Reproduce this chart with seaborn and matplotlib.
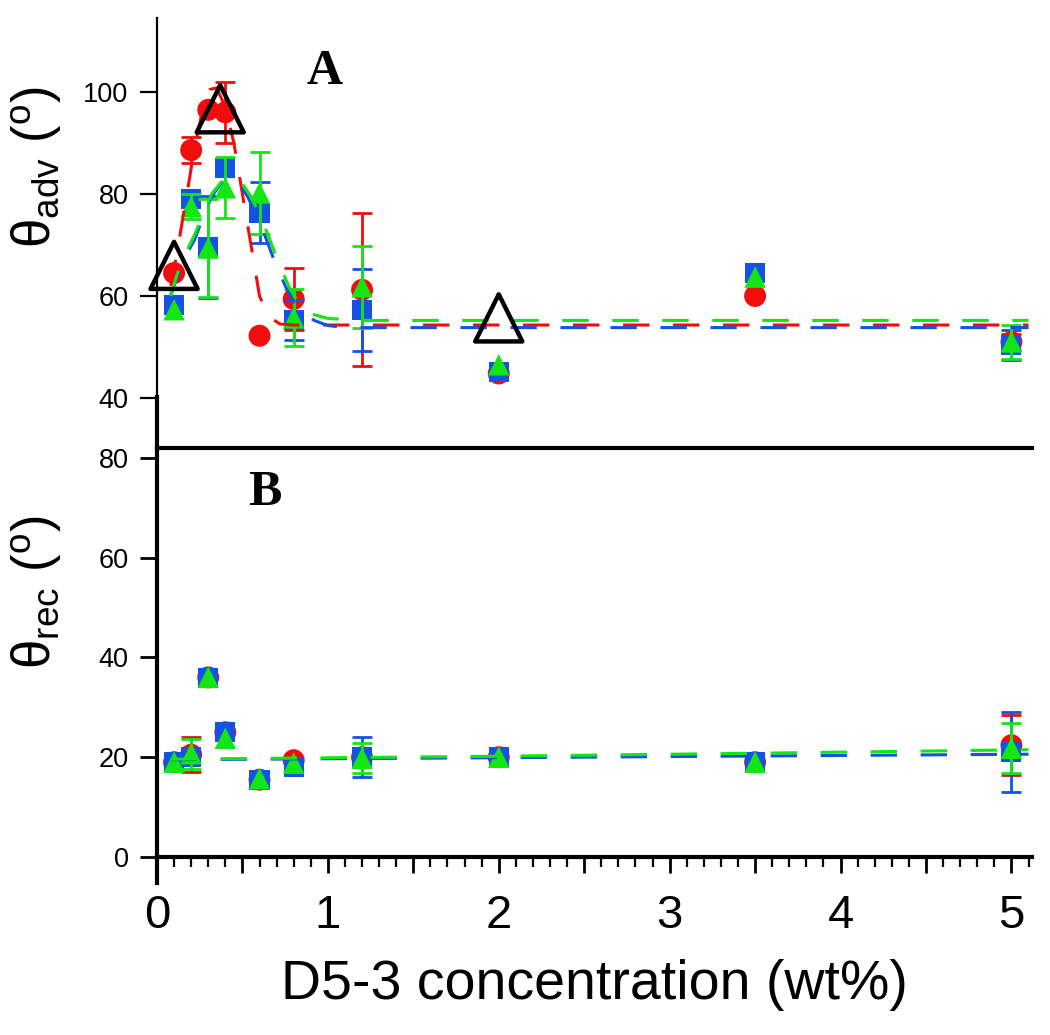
import numpy as np
import matplotlib
matplotlib.use("Agg")
import matplotlib.pyplot as plt
import seaborn as sns
from matplotlib.ticker import MultipleLocator, FixedLocator, FuncFormatter

# ---------------- data ----------------
conc = [0.1, 0.2, 0.3, 0.4, 0.6, 0.8, 1.2, 2.0, 3.5, 5.0]

adv_red = [64.5, 88.6, 96.5, 96.0, 52.2, 59.4, 61.2, 44.8, 60.0, 51.0]
adv_red_err = [0, 2.5, 0, 6, 0, 6, 15, 0, 0, 1.5]
adv_blue = [58.2, 79.0, 69.6, 85.1, 76.3, 55.3, 57.3, 45.1, 64.5, 50.4]
adv_blue_err = [0, 0, 10, 0, 6, 4, 8, 0, 0, 3]
adv_green = [57.3, 77.5, 69.4, 81.2, 80.2, 55.7, 61.8, 46.5, 63.7, 51.0]
adv_green_err = [0, 2.4, 9.7, 6, 8, 5.6, 8, 0, 0, 3.3]

ref_x = [0.1, 0.37, 2.0]
ref_adv = [66.0, 96.7, 55.7]

rec_red = [19.0, 20.5, 36.0, 25.0, 15.5, 19.4, 20.0, 20.0, 19.0, 22.4]
rec_red_err = [0, 3.5, 0, 0, 0, 0, 0, 0, 0, 6]
rec_blue = [19.0, 20.0, 35.8, 25.0, 15.4, 18.0, 20.0, 20.0, 19.0, 21.0]
rec_blue_err = [0, 0, 0, 0, 0, 0, 4, 0, 0, 8]
rec_green = [19.0, 20.7, 36.0, 23.8, 15.7, 18.8, 19.8, 20.0, 19.0, 21.8]
rec_green_err = [0, 3, 0, 0, 0, 0, 3, 0, 0, 5]

fit_adv_red_x = [0.08, 0.12, 0.17, 0.22, 0.27, 0.31, 0.35, 0.40, 0.45, 0.50, 0.55, 0.60, 0.65, 0.72, 0.80, 5.10]
fit_adv_red_y = [62, 69, 79, 89, 97, 100.5, 100.8, 97, 90, 80, 70, 60, 56, 54.5, 54.3, 54.3]
fit_adv_blue_x = [0.08, 0.12, 0.17, 0.22, 0.27, 0.32, 0.38, 0.43, 0.48, 0.53, 0.58, 0.63, 0.68, 0.75, 0.80, 0.85, 0.92, 1.00, 1.10, 5.10]
fit_adv_blue_y = [60, 64, 68, 71, 75.5, 79.5, 82.3, 83, 82, 79.5, 76, 72, 67.5, 62, 59, 57, 55.2, 54.2, 53.8, 53.8]
fit_adv_green_x = [0.08, 0.12, 0.17, 0.22, 0.27, 0.32, 0.38, 0.44, 0.50, 0.55, 0.60, 0.65, 0.70, 0.77, 0.83, 0.90, 1.00, 1.20, 5.10]
fit_adv_green_y = [60, 64.5, 68.5, 72, 76, 80, 82.5, 83.2, 82, 79.5, 76, 72, 67.5, 62, 58.5, 56.5, 55.6, 55.2, 55.2]

fit_rec_blue_x = [0.08, 2.0, 5.1]
fit_rec_blue_y = [19.5, 19.9, 20.6]
fit_rec_green_x = [0.08, 2.0, 3.5, 5.1]
fit_rec_green_y = [19.6, 20.2, 20.8, 21.5]

xticks_major = [0, 0.5, 1, 1.5, 2, 2.5, 3, 3.5, 4, 4.5, 5]
adv_ticks = [40, 60, 80, 100]
rec_ticks = [0, 20, 40, 60, 80]

RED = "#F20D0D"
BLUE = "#1452E6"
GREEN = "#14E614"

# ---------------- style ----------------
sns.set_style("ticks")
plt.rcParams['font.family'] = ['Liberation Sans', 'DejaVu Sans']
plt.rcParams['mathtext.fontset'] = 'custom'
plt.rcParams['mathtext.rm'] = 'Liberation Sans'
plt.rcParams['mathtext.it'] = 'Liberation Sans:italic'
plt.rcParams['mathtext.bf'] = 'Liberation Sans:bold'
plt.rcParams['lines.scale_dashes'] = False
plt.rcParams['text.color'] = 'black'
plt.rcParams['axes.labelcolor'] = 'black'
plt.rcParams['xtick.color'] = 'black'
plt.rcParams['ytick.color'] = 'black'

fig = plt.figure(figsize=(10.5, 10.35), dpi=100)
ax1 = fig.add_axes([0.1495, 0.6155, 0.8333, 0.3671])
ax2 = fig.add_axes([0.1495, 0.1720, 0.8333, 0.3952])

DASH = (0, (19, 17))
MS = {"o": 250, "s": 210, "^": 240}


def draw_series(ax, y, err, color, marker, z):
    y = np.asarray(y, float)
    err = np.asarray(err, float)
    x = np.asarray(conc, float)
    m = err > 0
    if m.any():
        ax.errorbar(x[m], y[m], yerr=err[m], fmt='none', ecolor=color,
                    elinewidth=2.0, capsize=7, capthick=2.0, zorder=z)
    sns.scatterplot(x=x, y=y, ax=ax, marker=marker, s=MS[marker], color=color,
                    edgecolor='none', linewidth=0, zorder=z + 0.5, legend=False)


# top panel
draw_series(ax1, adv_red, adv_red_err, RED, "o", 3)
draw_series(ax1, adv_blue, adv_blue_err, BLUE, "s", 4)
draw_series(ax1, adv_green, adv_green_err, GREEN, "^", 5)
for fx, fy, c in [(fit_adv_red_x, fit_adv_red_y, RED),
                  (fit_adv_blue_x, fit_adv_blue_y, BLUE),
                  (fit_adv_green_x, fit_adv_green_y, GREEN)]:
    sns.lineplot(x=fx, y=fy, ax=ax1, color=c, linewidth=2.2, linestyle=DASH,
                 sort=False, estimator=None, zorder=7, legend=False)
ax1.scatter(ref_x, ref_adv, marker='^', s=1150, facecolors='none',
            edgecolors='black', linewidths=3.2, zorder=9, clip_on=False)

# bottom panel
draw_series(ax2, rec_red, rec_red_err, RED, "o", 3)
draw_series(ax2, rec_blue, rec_blue_err, BLUE, "s", 4)
draw_series(ax2, rec_green, rec_green_err, GREEN, "^", 5)
for fx, fy, c in [(fit_rec_blue_x, fit_rec_blue_y, BLUE),
                  (fit_rec_green_x, fit_rec_green_y, GREEN)]:
    sns.lineplot(x=fx, y=fy, ax=ax2, color=c, linewidth=2.2, linestyle=DASH,
                 sort=False, estimator=None, zorder=7, legend=False)

# ---------------- axes ----------------
for ax in (ax1, ax2):
    ax.set_xlim(0, 5.12)
    ax.set_facecolor('white')

ax1.set_ylim(40, 114.5)
ax2.set_ylim(0, 82)

ax1.spines['top'].set_visible(False)
ax1.spines['right'].set_visible(False)
ax1.spines['bottom'].set_visible(False)
ax1.spines['left'].set_linewidth(1.6)
ax1.spines['left'].set_color('black')
ax1.set_xticks([])
ax1.yaxis.set_major_locator(FixedLocator(adv_ticks))
ax1.tick_params(axis='y', direction='out', length=12.5, width=1.6,
                labelsize=19.5, pad=8, colors='black')

ax2.spines['right'].set_visible(False)
for s in ('left', 'bottom', 'top'):
    ax2.spines[s].set_linewidth(3.0)
    ax2.spines[s].set_color('black')
ax2.spines['left'].set_bounds(-5.2, 92.2)
ax2.spines['left'].set_clip_on(False)
ax2.yaxis.set_major_locator(FixedLocator(rec_ticks))
ax2.xaxis.set_major_locator(FixedLocator(xticks_major))
ax2.xaxis.set_minor_locator(MultipleLocator(0.1))
ax2.xaxis.set_major_formatter(FuncFormatter(
    lambda v, p: f"{int(round(v))}" if abs(v - round(v)) < 1e-6 else ""))
ax2.tick_params(axis='y', direction='out', length=12.5, width=2.0,
                labelsize=19.5, pad=8, colors='black')
ax2.tick_params(axis='x', which='major', direction='out', length=11.5, width=2.0,
                labelsize=34, pad=15, colors='black')
ax2.tick_params(axis='x', which='minor', direction='out', length=7.5, width=1.6,
                colors='black')

for ax in (ax1, ax2):
    ax.grid(False)

ax1.set_ylabel(r"θ$_{\mathrm{adv}}$ ($^{\mathrm{o}}$)", fontsize=38, color='black')
ax1.yaxis.set_label_coords(-0.106, 0.608)
ax2.set_ylabel(r"θ$_{\mathrm{rec}}$ ($^{\mathrm{o}}$)", fontsize=38, color='black')
ax2.yaxis.set_label_coords(-0.106, 0.648)
ax2.set_xlabel("D5-3 concentration (wt%)", fontsize=40, color='black')
ax2.xaxis.set_label_coords(0.5, -0.25)

ax1.text(0.192, 0.858, "A", transform=ax1.transAxes, fontsize=36, color='black',
         fontweight='bold', family='Liberation Serif', ha='center', va='center')
ax2.text(0.123, 0.89, "B", transform=ax2.transAxes, fontsize=36, color='black',
         fontweight='bold', family='Liberation Serif', ha='center', va='center')

fig.savefig("out.png", dpi=100, facecolor='white')
